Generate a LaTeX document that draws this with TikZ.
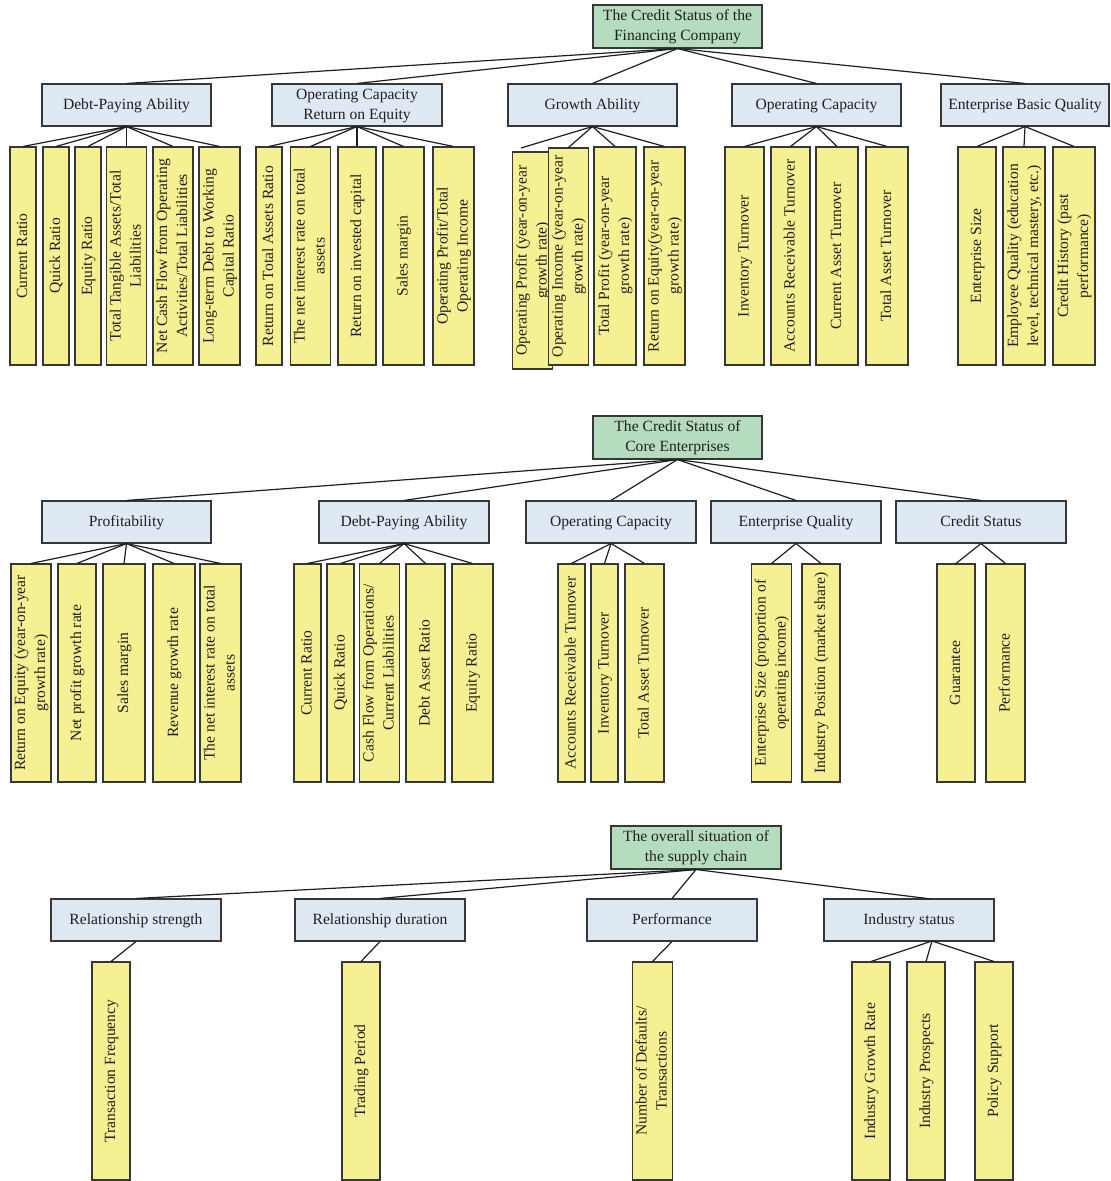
\documentclass[tikz,border=0pt]{standalone}
\usepackage{fontspec}
\setmainfont{Liberation Serif}
\definecolor{rootc}{RGB}{181,220,191}
\definecolor{catc}{RGB}{222,233,243}
\definecolor{leafc}{RGB}{245,241,146}
\definecolor{bordc}{RGB}{55,55,55}
\definecolor{linec}{RGB}{30,30,30}
\definecolor{txtc}{RGB}{35,31,32}
\tikzset{
 box/.style={draw=bordc, line width=0.8pt, inner sep=0pt, align=center,
   font=\fontsize{11.7}{15}\selectfont, text=txtc},
 rootbox/.style={box, fill=rootc},
 catbox/.style={box, fill=catc},
 leafbox/.style={box, fill=leafc, rotate=90},
 conn/.style={draw=linec, line width=0.9pt},
}
% #1 style, #2 name, #3 x1, #4 x2, #5 y1, #6 y2, #7 text
\newcommand\mkbox[7]{\node[#1, minimum width={(#4-#3)*0.75pt}, minimum height={(#6-#5)*0.75pt}] (#2) at ({(#3+#4)/2},{(#5+#6)/2}) {\strut#7\strut};}
% leaf: #1 name, #2 x1, #3 x2, #4 y1, #5 y2, #6 text
\newcommand\mkleaf[6]{\node[leafbox, minimum width={(#5-#4)*0.75pt}, minimum height={(#3-#2)*0.75pt}] (#1) at ({(#2+#3)/2},{(#4+#5)/2}) {\strut#6\strut};}
\begin{document}
\begin{tikzpicture}[x=0.75pt,y=-0.75pt]
\useasboundingbox (0,0) rectangle (1110,1181);
% ================= Section 1 =================
\mkbox{rootbox}{rA}{593}{762}{5}{48}{The Credit Status of the\\Financing Company}
\mkbox{catbox}{a1}{42}{211}{84}{126}{Debt-Paying Ability}
\mkbox{catbox}{a2}{272}{442}{84}{126}{Operating Capacity\\Return on Equity}
\mkbox{catbox}{a3}{508}{677}{84}{126}{Growth Ability}
\mkbox{catbox}{a4}{732}{901}{84}{126}{Operating Capacity}
\mkbox{catbox}{a5}{941}{1109}{84}{126}{Enterprise Basic Quality}
\mkleaf{a1l1}{10}{36}{147}{365}{Current Ratio}
\mkleaf{a1l2}{43}{69}{147}{365}{Quick Ratio}
\mkleaf{a1l3}{75}{101}{147}{365}{Equity Ratio}
\mkleaf{a1l4}{107}{146}{147}{365}{Total Tangible Assets/Total\\Liabilities}
\mkleaf{a1l5}{154}{192}{147}{365}{Net Cash Flow from Operating\\Activities/Total Liabilities}
\mkleaf{a1l6}{199}{240}{147}{365}{Long-term Debt to Working\\Capital Ratio}
\mkleaf{a2l1}{256}{282}{147}{365}{Return on Total Assets Ratio}
\mkleaf{a2l2}{291}{330}{147}{365}{The net interest rate on total\\assets}
\mkleaf{a2l3}{338}{376}{147}{365}{Return on invested capital}
\mkleaf{a2l4}{383}{424}{147}{365}{Sales margin}
\mkleaf{a2l5}{433}{474}{147}{365}{Operating Profit/Total\\Operating Income}
\mkleaf{a3l1}{513}{552}{152}{369}{Operating Profit (year-on-year\\growth rate)}
\mkleaf{a3l2}{549}{588}{148}{365}{Operating Income (year-on-year\\growth rate)}
\mkleaf{a3l3}{594}{636}{147}{365}{Total Profit (year-on-year\\growth rate)}
\mkleaf{a3l4}{644}{685}{147}{365}{Return on Equity(year-on-year\\growth rate)}
\mkleaf{a4l1}{725}{764}{147}{365}{Inventory Turnover}
\mkleaf{a4l2}{771}{810}{147}{365}{Accounts Receivable Turnover}
\mkleaf{a4l3}{816}{858}{147}{365}{Current Asset Turnover}
\mkleaf{a4l4}{866}{908}{147}{365}{Total Asset Turnover}
\mkleaf{a5l1}{958}{996}{147}{365}{Enterprise Size}
\mkleaf{a5l2}{1003}{1045}{147}{365}{Employee Quality (education\\level, technical mastery, etc.)}
\mkleaf{a5l3}{1053}{1095}{147}{365}{Credit History (past\\performance)}
\coordinate (a3l1end) at (521,148);
\foreach \c in {a1,a2,a3,a4,a5} \draw[conn] (rA.south) -- (\c.north);
\foreach \c in {a1l1,a1l2,a1l3,a1l4,a1l5,a1l6} \draw[conn] (a1.south) -- (\c.east);
\foreach \c in {a2l1,a2l2,a2l3,a2l4,a2l5} \draw[conn] (a2.south) -- (\c.east);
\draw[conn] (a3.south) -- (a3l1end);
\foreach \c in {a3l2,a3l3,a3l4} \draw[conn] (a3.south) -- (\c.east);
\foreach \c in {a4l1,a4l2,a4l3,a4l4} \draw[conn] (a4.south) -- (\c.east);
\foreach \c in {a5l1,a5l2,a5l3} \draw[conn] (a5.south) -- (\c.east);
% ================= Section 2 =================
\mkbox{rootbox}{rB}{593}{762}{416}{459}{The Credit Status of\\Core Enterprises}
\mkbox{catbox}{b1}{42}{211}{501}{543}{Profitability}
\mkbox{catbox}{b2}{319}{489}{501}{543}{Debt-Paying Ability}
\mkbox{catbox}{b3}{526}{696}{501}{543}{Operating Capacity}
\mkbox{catbox}{b4}{711}{881}{501}{543}{Enterprise Quality}
\mkbox{catbox}{b5}{896}{1066}{501}{543}{Credit Status}
\mkleaf{b1l1}{12}{50}{564}{782}{Return on Equity (year-on-year\\growth rate)}
\mkleaf{b1l2}{58}{96}{564}{782}{Net profit growth rate}
\mkleaf{b1l3}{103}{145}{564}{782}{Sales margin}
\mkleaf{b1l4}{153}{195}{564}{782}{Revenue growth rate}
\mkleaf{b1l5}{200}{241}{564}{782}{The net interest rate on total\\assets}
\mkleaf{b2l1}{294}{321}{564}{782}{Current Ratio}
\mkleaf{b2l2}{327}{354}{564}{782}{Quick Ratio}
\mkleaf{b2l3}{360}{399}{564}{782}{Cash Flow from Operations/\\Current Liabilities}
\mkleaf{b2l4}{406}{445}{564}{782}{Debt Asset Ratio}
\mkleaf{b2l5}{452}{493}{564}{782}{Equity Ratio}
\mkleaf{b3l1}{558}{585}{564}{782}{Accounts Receivable Turnover}
\mkleaf{b3l2}{591}{618}{564}{782}{Inventory Turnover}
\mkleaf{b3l3}{625}{664}{564}{782}{Total Asset Turnover}
\mkleaf{b4l1}{752}{791}{564}{782}{Enterprise Size (proportion of\\operating income)}
\mkleaf{b4l2}{802}{840}{564}{782}{Industry Position (market share)}
\mkleaf{b5l1}{937}{975}{564}{782}{Guarantee}
\mkleaf{b5l2}{986}{1025}{564}{782}{Performance}
\foreach \c in {b1,b2,b3,b4,b5} \draw[conn] (rB.south) -- (\c.north);
\foreach \c in {b1l1,b1l2,b1l3,b1l4,b1l5} \draw[conn] (b1.south) -- (\c.east);
\foreach \c in {b2l1,b2l2,b2l3,b2l4,b2l5} \draw[conn] (b2.south) -- (\c.east);
\foreach \c in {b3l1,b3l2,b3l3} \draw[conn] (b3.south) -- (\c.east);
\foreach \c in {b4l1,b4l2} \draw[conn] (b4.south) -- (\c.east);
\foreach \c in {b5l1,b5l2} \draw[conn] (b5.south) -- (\c.east);
% ================= Section 3 =================
\mkbox{rootbox}{rC}{611}{781}{826}{869}{The overall situation of\\the supply chain}
\mkbox{catbox}{c1}{51}{221}{899}{941}{Relationship strength}
\mkbox{catbox}{c2}{295}{465}{899}{941}{Relationship duration}
\mkbox{catbox}{c3}{587}{757}{899}{941}{Performance}
\mkbox{catbox}{c4}{824}{994}{899}{941}{Industry status}
\mkleaf{c1l1}{92}{130}{962}{1180}{Transaction Frequency}
\mkleaf{c2l1}{342}{380}{962}{1180}{Trading Period}
\mkleaf{c3l1}{633}{672}{962}{1180}{Number of Defaults/\\Transactions}
\mkleaf{c4l1}{852}{890}{962}{1180}{Industry Growth Rate}
\mkleaf{c4l2}{907}{945}{962}{1180}{Industry Prospects}
\mkleaf{c4l3}{975}{1013}{962}{1180}{Policy Support}
\coordinate (c4top) at (931,899);
\coordinate (c4bot) at (932,941);
\foreach \c in {c1,c2,c3} \draw[conn] (rC.south) -- (\c.north);
\draw[conn] (rC.south) -- (c4top);
\draw[conn] (c1.south) -- (c1l1.east);
\draw[conn] (c2.south) -- (c2l1.east);
\draw[conn] (c3.south) -- (c3l1.east);
\foreach \c in {c4l1,c4l2,c4l3} \draw[conn] (c4bot) -- (\c.east);
\end{tikzpicture}
\end{document}
